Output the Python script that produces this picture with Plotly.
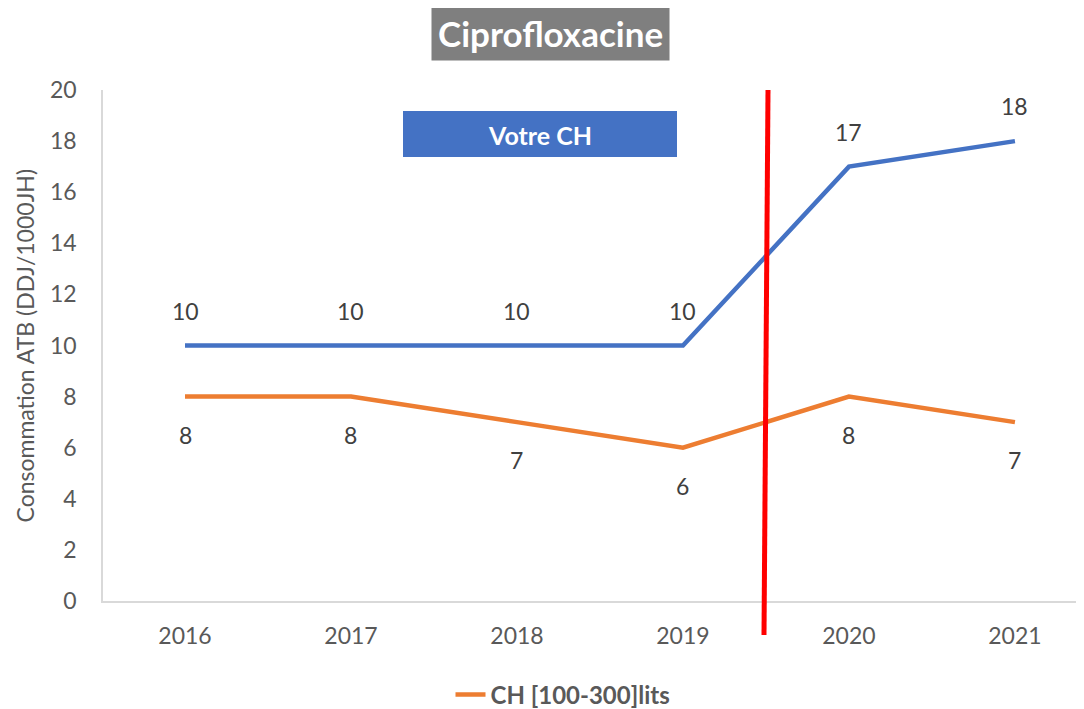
import plotly.graph_objects as go

years = ["2016", "2017", "2018", "2019", "2020", "2021"]
votre_ch = [10, 10, 10, 10, 17, 18]
ch_100_300 = [8, 8, 7, 6, 8, 7]
y_ticks = [0, 2, 4, 6, 8, 10, 12, 14, 16, 18, 20]

FONT = "Lato"
OFF = 8                      # page body margin offset
FW, FH = 1084 - OFF, 709 - OFF
L, T, W, H = 103 - OFF, 90 - OFF, 981, 511  # plot area in figure pixels


def px(xr):
    return (xr - OFF - L) / W


def py(yr):
    return (T + H - (yr - OFF)) / H


fig = go.Figure()
fig.add_trace(go.Scatter(
    x=years, y=votre_ch, mode="lines", name="Votre CH",
    line=dict(color="#4472C4", width=4.5),
    showlegend=False, cliponaxis=False))
fig.add_trace(go.Scatter(
    x=years, y=ch_100_300, mode="lines", name="<b>CH [100-300]lits</b>",
    line=dict(color="#ED7D31", width=4.5),
    showlegend=True, cliponaxis=False))

# data labels (category index positions)
for i, yv in enumerate(votre_ch):
    fig.add_annotation(x=i, y=yv, text=str(yv), showarrow=False, yshift=35,
                       xanchor="center", yanchor="middle",
                       font=dict(size=23, color="#404040", family=FONT))
for i, yv in enumerate(ch_100_300):
    fig.add_annotation(x=i, y=yv, text=str(yv), showarrow=False, yshift=-38,
                       xanchor="center", yanchor="middle",
                       font=dict(size=23, color="#404040", family=FONT))

fig.update_layout(
    width=FW, height=FH,
    margin=dict(l=L, r=FW - L - W, t=T, b=FH - T - H, autoexpand=False),
    paper_bgcolor="white", plot_bgcolor="white",
    font=dict(family=FONT, color="#595959"),
    showlegend=True,
    legend=dict(orientation="h", xref="container", yref="container",
                x=(563 - OFF) / FW, xanchor="center", y=(709 - 695) / FH, yanchor="middle",
                font=dict(size=24, color="#595959", family=FONT)),
    xaxis=dict(type="category", range=[-0.494, 5.416], showgrid=False,
               showline=True, linecolor="#D9D9D9", linewidth=1.5,
               ticks="", tickfont=dict(size=23, color="#595959"),
               ticklabelstandoff=14, zeroline=False, automargin=False),
    yaxis=dict(range=[0, 20], tickvals=y_ticks, showgrid=False,
               showline=True, linecolor="#D9D9D9", linewidth=1.5,
               ticks="", tickfont=dict(size=23, color="#595959"),
               ticklabelstandoff=20, zeroline=False, automargin=False),
)

# y-axis title
fig.add_annotation(xref="paper", yref="paper", x=px(24), y=0.5,
                   xanchor="center", yanchor="middle", textangle=-90,
                   text="Consommation ATB (DDJ/1000JH)", showarrow=False,
                   font=dict(size=23, color="#595959", family=FONT))

# Red separator line
fig.add_shape(type="line", xref="paper", yref="paper",
              x0=px(768), x1=px(764), y0=py(90), y1=py(635),
              line=dict(color="#FF0000", width=5))

# "Votre CH" box
fig.add_shape(type="rect", xref="paper", yref="paper",
              x0=px(403), x1=px(677), y0=py(157), y1=py(111),
              fillcolor="#4472C4", line=dict(width=0))
fig.add_annotation(xref="paper", yref="paper", x=px(540), y=py(135),
                   xanchor="center", yanchor="middle",
                   text="<b>Votre CH</b>", showarrow=False,
                   font=dict(size=25, color="white", family=FONT))

# Title
fig.add_annotation(xref="paper", yref="paper", x=px(550), y=py(33),
                   xanchor="center", yanchor="middle",
                   text="<b>Ciprofloxacine</b>", showarrow=False,
                   font=dict(size=35, color="white", family=FONT),
                   bgcolor="#7F7F7F", borderpad=6)

fig.write_html("out.html")
